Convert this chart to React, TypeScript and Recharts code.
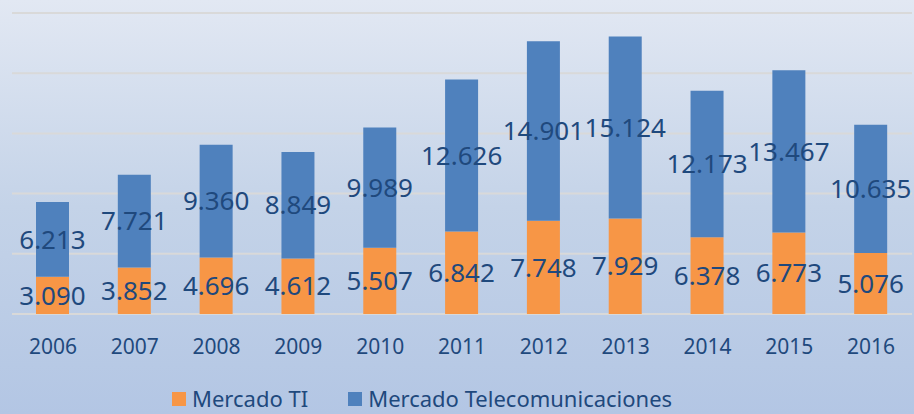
import { BarChart, Bar, XAxis, YAxis, CartesianGrid, LabelList } from 'recharts';

const years = ['2006', '2007', '2008', '2009', '2010', '2011', '2012', '2013', '2014', '2015', '2016'];
const mercadoTI = [3.09, 3.852, 4.696, 4.612, 5.507, 6.842, 7.748, 7.929, 6.378, 6.773, 5.076];
const mercadoTelecom = [6.213, 7.721, 9.36, 8.849, 9.989, 12.626, 14.901, 15.124, 12.173, 13.467, 10.635];
const yTicks = [0, 5, 10, 15, 20, 25];

const data = years.map((year, i) => ({
  year,
  ti: mercadoTI[i],
  telecom: mercadoTelecom[i],
}));

const ORANGE = '#F79646';
const BLUE = '#4F81BD';
const TEXT = '#1F497D';
const FONT = '"Noto Sans", "Open Sans", sans-serif';

const fmt = (v: number) => Number(v).toFixed(3);

function LegendItem({ color, label }: { color: string; label: string }) {
  return (
    <div style={{ display: 'flex', alignItems: 'center' }}>
      <span style={{ width: 14, height: 14, background: color, marginRight: 6, display: 'inline-block', marginTop: 2 }} />
      <span>{label}</span>
    </div>
  );
}

export default function App() {
  return (
    <div
      style={{
        position: 'absolute',
        left: 0,
        top: 0,
        width: 914,
        height: 414,
        overflow: 'hidden',
        background: 'linear-gradient(to bottom, #E2E8F3 0%, #C4D3E8 50%, #B3C6E4 100%)',
        fontFamily: FONT,
      }}
    >
      <BarChart width={914} height={414} data={data} margin={{ top: 13, right: 2, left: 12, bottom: 0 }}>
        <CartesianGrid vertical={false} stroke="#D9D9D9" strokeWidth={2} />
        <YAxis hide domain={[0, 25]} ticks={yTicks} />
        <XAxis
          dataKey="year"
          height={100}
          axisLine={false}
          tickLine={false}
          tickMargin={19}
          tick={{ fill: TEXT, fontSize: 21, fontFamily: FONT }}
        />
        <Bar dataKey="ti" stackId="a" fill={ORANGE} barSize={33} isAnimationActive={false}>
          <LabelList dataKey="ti" position="center" formatter={fmt} fill={TEXT} fontSize={26} fontFamily={FONT} />
        </Bar>
        <Bar dataKey="telecom" stackId="a" fill={BLUE} barSize={33} isAnimationActive={false}>
          <LabelList dataKey="telecom" position="center" formatter={fmt} fill={TEXT} fontSize={26} fontFamily={FONT} />
        </Bar>
      </BarChart>
      <div
        style={{
          position: 'absolute',
          top: 384,
          left: 172,
          display: 'flex',
          gap: 40,
          color: TEXT,
          fontSize: 22,
          lineHeight: '28px',
        }}
      >
        <LegendItem color={ORANGE} label="Mercado TI" />
        <LegendItem color={BLUE} label="Mercado Telecomunicaciones" />
      </div>
    </div>
  );
}
